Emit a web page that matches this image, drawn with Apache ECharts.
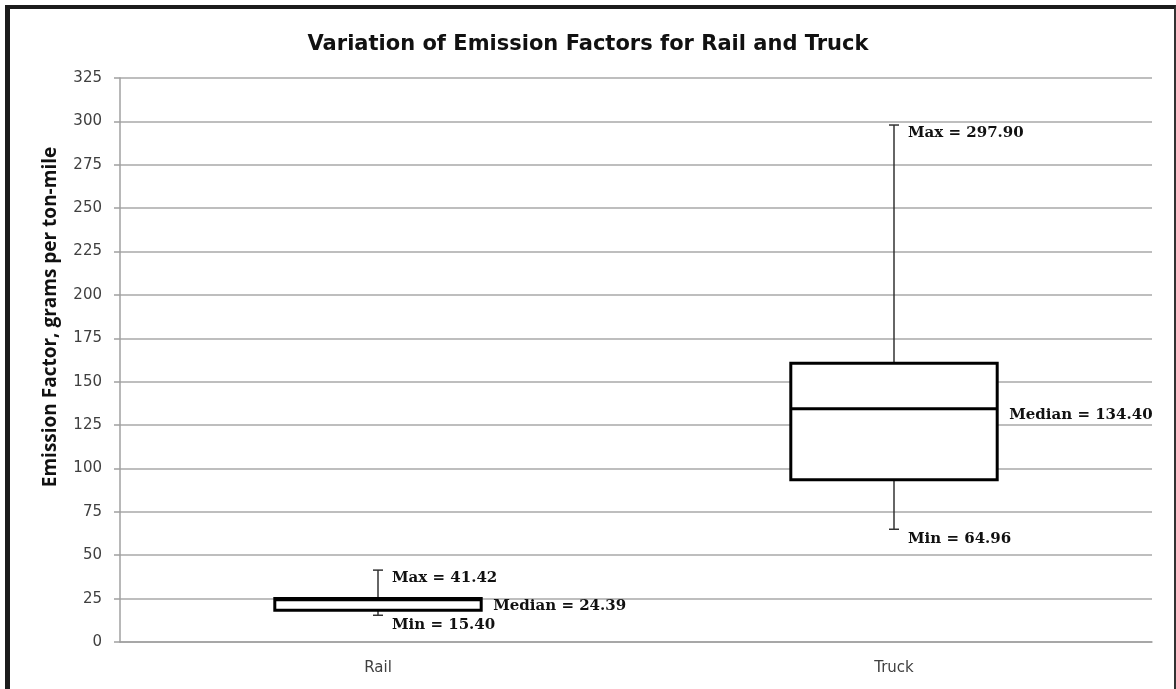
<!DOCTYPE html>
<html>
<head>
<meta charset="utf-8">
<script src="https://cdn.jsdelivr.net/npm/echarts@6/dist/echarts.min.js"></script>
<style>
  html, body { margin: 0; padding: 0; background: #fff; }
  #chart { width: 1176px; height: 689px; }
  #frame {
    position: absolute; left: 5px; top: 5px; width: 1164px; height: 700px;
    border-left: 5px solid #1c1c1c; border-top: 4px solid #1c1c1c; border-right: 2px solid #333;
    pointer-events: none;
  }
</style>
</head>
<body>
<div id="chart"></div>
<div id="frame"></div>
<script>
// box plot data
const categories = ['Rail', 'Truck'];
const minVals = [15.40, 64.96];
const q1Vals = [18.3, 93.5];
const medianVals = [24.39, 134.40];
const q3Vals = [25.0, 160.6];
const maxVals = [41.42, 297.90];
const yMin = 0;
const yMax = 325;
const yStep = 25;

const boxData = categories.map((c, i) => [i, minVals[i], q1Vals[i], medianVals[i], q3Vals[i], maxVals[i]]);

const labelFont = { fontFamily: 'DejaVu Serif', fontWeight: 'bold', fontSize: 15, fill: '#111' };

function renderBox(params, api) {
    const i = api.value(0);
    const x = api.coord([i, 0])[0];
    const half = api.size([1, 0])[0] * 0.2;
    const yLo = api.coord([i, api.value(1)])[1];
    const yQ1 = api.coord([i, api.value(2)])[1];
    const yMed = api.coord([i, api.value(3)])[1];
    const yQ3 = api.coord([i, api.value(4)])[1];
    const yHi = api.coord([i, api.value(5)])[1];
    const thin = { stroke: '#333', lineWidth: 1.5 };
    const thick = { stroke: '#000', lineWidth: 3 };
    return {
        type: 'group',
        children: [
            { type: 'line', shape: { x1: x, y1: yQ1, x2: x, y2: yLo }, style: thin },
            { type: 'line', shape: { x1: x, y1: yQ3, x2: x, y2: yHi }, style: thin },
            { type: 'line', shape: { x1: x - 5, y1: yLo, x2: x + 5, y2: yLo }, style: thin },
            { type: 'line', shape: { x1: x - 5, y1: yHi, x2: x + 5, y2: yHi }, style: thin },
            { type: 'rect', shape: { x: x - half, y: yQ3, width: half * 2, height: yQ1 - yQ3 },
              style: Object.assign({ fill: '#fff' }, thick) },
            { type: 'line', shape: { x1: x - half, y1: yMed, x2: x + half, y2: yMed }, style: thick },
            { type: 'text', x: x + 14, y: yHi + 8,
              style: Object.assign({ text: 'Max = ' + api.value(5).toFixed(2), verticalAlign: 'middle' }, labelFont) },
            { type: 'text', x: x + half + 12, y: yMed + 6,
              style: Object.assign({ text: 'Median = ' + api.value(3).toFixed(2), verticalAlign: 'middle' }, labelFont) },
            { type: 'text', x: x + 14, y: yLo + 10,
              style: Object.assign({ text: 'Min = ' + api.value(1).toFixed(2), verticalAlign: 'middle' }, labelFont) }
        ]
    };
}

const chart = echarts.init(document.getElementById('chart'));
const option = {
    animation: false,
    title: {
        text: 'Variation of Emission Factors for Rail and Truck',
        left: 'center',
        top: 29,
        textStyle: { fontFamily: 'DejaVu Sans', fontWeight: 'bold', fontSize: 21, color: '#111' }
    },
    grid: { left: 120, right: 24, top: 78, bottom: 47 },
    xAxis: {
        type: 'category',
        data: categories,
        axisLine: { lineStyle: { color: '#a0a0a0', width: 1.5 } },
        axisTick: { length: 6, lineStyle: { color: '#a0a0a0', width: 1.5 } },
        axisLabel: { margin: 19, fontFamily: 'DejaVu Sans', fontSize: 15, color: '#404040' }
    },
    yAxis: {
        type: 'value',
        min: yMin,
        max: yMax,
        interval: yStep,
        name: 'Emission Factor, grams per ton-mile',
        nameLocation: 'middle',
        nameGap: 60,
        nameTextStyle: { fontFamily: 'Open Sans', fontWeight: 'bold', fontSize: 19, color: '#111', padding: [0, 0, 0, 86] },
        axisLine: { show: true, lineStyle: { color: '#a0a0a0', width: 1.5 } },
        axisTick: { show: true, length: 6, lineStyle: { color: '#a0a0a0', width: 1.5 } },
        axisLabel: { margin: 18, fontFamily: 'DejaVu Sans', fontSize: 15, color: '#404040' },
        splitLine: { lineStyle: { color: '#a8a8a8', width: 1.5 } }
    },
    series: [{
        type: 'custom',
        renderItem: renderBox,
        encode: { x: 0, y: [1, 5] },
        data: boxData
    }]
};
chart.setOption(option);
</script>
</body>
</html>
